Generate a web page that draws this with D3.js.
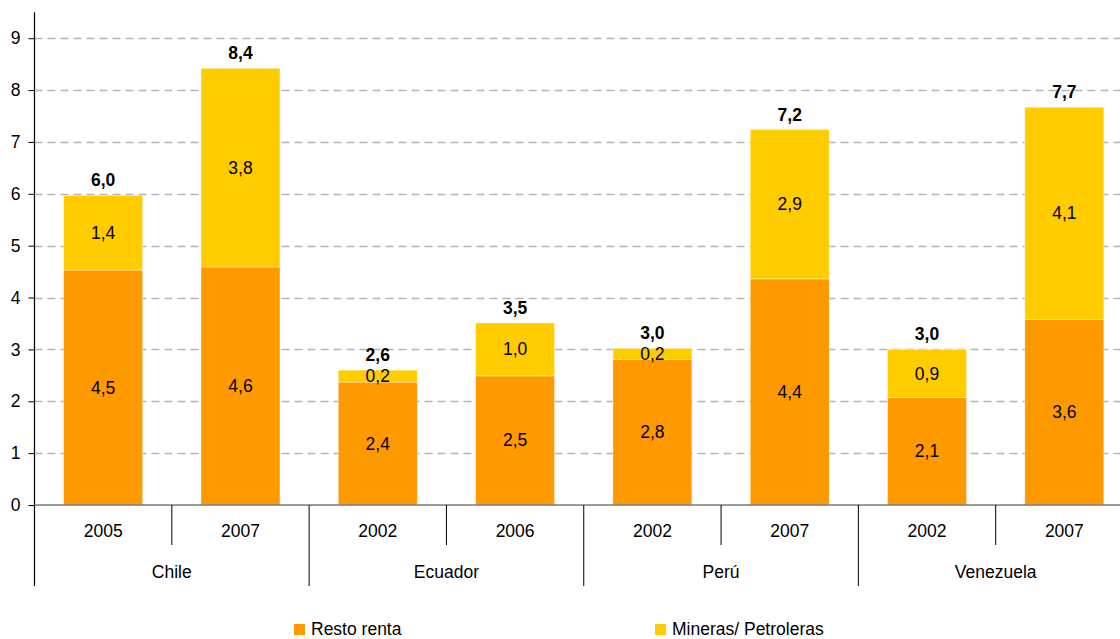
<!DOCTYPE html>
<html>
<head>
<meta charset="utf-8">
<script src="https://cdn.jsdelivr.net/npm/d3@7/dist/d3.min.js"></script>
<style>
  html, body { margin: 0; padding: 0; background: #fff; }
  svg { display: block; font-family: "Liberation Sans", Arial, Helvetica, sans-serif; }
</style>
</head>
<body>
<svg id="chart" width="1120" height="639"></svg>
<script>
// Ingresos fiscales: minería/petróleo vs. resto, por país y año
const countries = ["Chile", "Ecuador", "Perú", "Venezuela"];
const years = ["2005", "2007", "2002", "2006", "2002", "2007", "2002", "2007"];
const restoRenta = [4.53, 4.59, 2.37, 2.49, 2.81, 4.36, 2.07, 3.58];
const mineras = [1.44, 3.83, 0.23, 1.02, 0.21, 2.88, 0.93, 4.09];
const yTicks = [0, 1, 2, 3, 4, 5, 6, 7, 8, 9];
const seriesNames = ["Resto renta", "Mineras/ Petroleras"];
const seriesColors = ["#FF9900", "#FFCC00"];

const svg = d3.select("#chart");
const fmt = v => v.toFixed(1).replace(".", ",");
const FS = 17.5;

const x0 = 34.5, x1 = 1133, yBase = 505, yTop = 12.3;
const idx = d3.range(years.length);

const x = d3.scaleBand().domain(idx).range([x0, x1]).paddingInner(0.425).paddingOuter(0.2125);
const y = d3.scaleLinear().domain([0, 9.5]).range([yBase, yTop]);

// gridlines
svg.append("g").selectAll("line").data(yTicks.filter(t => t > 0)).join("line")
  .attr("x1", x0).attr("x2", 1120)
  .attr("y1", d => Math.round(y(d)) + 0.5).attr("y2", d => Math.round(y(d)) + 0.5)
  .attr("stroke", "#b4b4b4").attr("stroke-width", 1.3).attr("stroke-dasharray", "8,5");

// stacked bars
const rows = idx.map(i => ({ i, resto: restoRenta[i], min: mineras[i] }));
const stack = d3.stack().keys(["resto", "min"])(rows);
const gBars = svg.append("g");
stack.forEach((layer, k) => {
  gBars.append("g").selectAll("rect").data(layer).join("rect")
    .attr("x", d => x(d.data.i))
    .attr("width", x.bandwidth())
    .attr("y", d => y(d[1]))
    .attr("height", d => y(d[0]) - y(d[1]))
    .attr("fill", seriesColors[k])
    .attr("stroke", "rgba(255,255,255,0.45)").attr("stroke-width", 0.8);
});

// segment labels
const gLab = svg.append("g").attr("font-size", FS).attr("text-anchor", "middle").attr("fill", "#000");
stack.forEach(layer => {
  gLab.append("g").selectAll("text").data(layer).join("text")
    .attr("x", d => x(d.data.i) + x.bandwidth() / 2)
    .attr("y", d => (y(d[0]) + y(d[1])) / 2 + 6)
    .text(d => fmt(d[1] - d[0]));
});

// totals
svg.append("g").attr("font-size", FS).attr("font-weight", "bold").attr("text-anchor", "middle")
  .selectAll("text").data(rows).join("text")
  .attr("x", d => x(d.i) + x.bandwidth() / 2)
  .attr("y", d => y(d.resto + d.min) - 9)
  .text(d => fmt(d.resto + d.min));

// y axis
const yAxis = d3.axisLeft(y).tickValues(yTicks).tickSize(6).tickPadding(8).tickFormat(d3.format("d"));
const gy = svg.append("g").attr("transform", `translate(${x0},0)`).call(yAxis);
gy.select(".domain").remove();
gy.selectAll(".tick line").attr("stroke", "#000");
gy.selectAll(".tick text").attr("font-size", FS).attr("font-family", "Liberation Sans, Arial, sans-serif").attr("fill", "#000");
svg.append("line").attr("x1", x0).attr("x2", x0).attr("y1", yTop).attr("y2", 586)
  .attr("stroke", "#000").attr("stroke-width", 1.2);

// baseline
svg.append("line").attr("x1", x0).attr("x2", 1120).attr("y1", yBase).attr("y2", yBase)
  .attr("stroke", "#7a7a7a").attr("stroke-width", 1.3);

// category axis: year separators and country separators
const step = x.step();
const bounds = d3.range(1, years.length + 1).map(k => x0 + k * step);
svg.append("g").selectAll("line").data(bounds).join("line")
  .attr("x1", d => d).attr("x2", d => d)
  .attr("y1", yBase).attr("y2", (d, k) => (k % 2 === 1 ? 586 : 545))
  .attr("stroke", "#000").attr("stroke-width", 1);

svg.append("g").attr("font-size", FS).attr("text-anchor", "middle")
  .selectAll("text").data(idx).join("text")
  .attr("x", i => x(i) + x.bandwidth() / 2)
  .attr("y", 537)
  .text(i => years[i]);

svg.append("g").attr("font-size", FS).attr("text-anchor", "middle")
  .selectAll("text").data(countries).join("text")
  .attr("x", (c, k) => x0 + (2 * k + 1) * step)
  .attr("y", 578)
  .text(c => c);

// legend
const legendX = [294, 655];
const lg = svg.append("g").selectAll("g").data(seriesNames).join("g")
  .attr("transform", (d, k) => `translate(${legendX[k]},624)`);
lg.append("rect").attr("width", 11).attr("height", 11).attr("fill", (d, k) => seriesColors[k]);
lg.append("text").attr("x", 17).attr("y", 11).attr("font-size", FS).text(d => d);
</script>
</body>
</html>
